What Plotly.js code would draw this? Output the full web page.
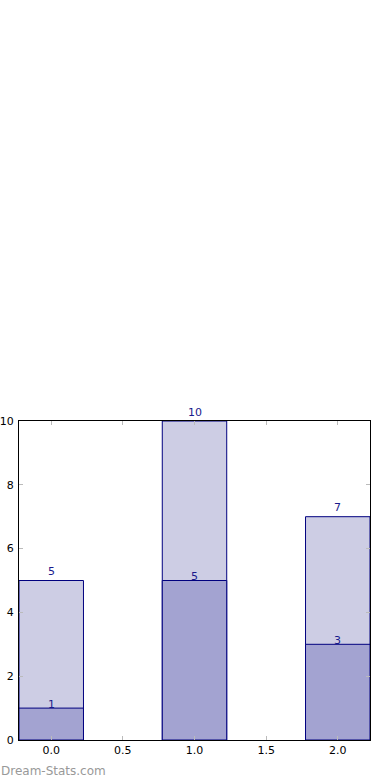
<!DOCTYPE html>
<html><head><meta charset="utf-8">
<script src="https://cdn.plot.ly/plotly-3.0.1.min.js"></script>
<style>body{margin:0;background:#fff}#c{width:390px;height:780px}</style>
</head><body><div id="c"></div>
<script>
const categories = [0, 1, 2];
const totalValues = [5, 10, 7];
const partValues = [1, 5, 3];
const xTicks = [0, 0.5, 1, 1.5, 2];
const xTickLabels = ['0.0', '0.5', '1.0', '1.5', '2.0'];
const yTicks = [0, 2, 4, 6, 8, 10];

const edge = '#00007f';
const labelColor = '#1a1a8c';
const traces = [
  {type: 'bar', x: categories, y: totalValues, width: 0.45,
   marker: {color: '#cdcde4', line: {color: edge, width: 1}}, hoverinfo: 'none'},
  {type: 'bar', x: categories, y: partValues, width: 0.45,
   marker: {color: '#a3a3d1', line: {color: edge, width: 1}}, hoverinfo: 'none'}
];
const annotations = [];
categories.forEach((c, i) => {
  annotations.push({x: c, y: totalValues[i], text: String(totalValues[i]), showarrow: false,
    yanchor: 'middle', yshift: 9, font: {family: 'DejaVu Sans', size: 11, color: labelColor}});
  annotations.push({x: c, y: partValues[i], text: String(partValues[i]), showarrow: false,
    yanchor: 'middle', yshift: 4, font: {family: 'DejaVu Sans', size: 11, color: labelColor}});
});
annotations.push({xref: 'paper', yref: 'paper', x: 0, y: 0, xanchor: 'left', yanchor: 'bottom',
  xshift: -20, yshift: -40, text: 'Dream-Stats.com', showarrow: false,
  font: {family: 'DejaVu Sans', size: 12, color: '#999999'}});

const layout = {
  width: 390, height: 780,
  margin: {l: 19, r: 20, t: 421, b: 40},
  paper_bgcolor: '#fff', plot_bgcolor: '#fff',
  barmode: 'overlay', showlegend: false,
  font: {family: 'DejaVu Sans', size: 11, color: '#000'},
  xaxis: {range: [-0.225, 2.225], tickvals: xTicks, ticktext: xTickLabels,
    ticks: 'inside', ticklen: 4, tickcolor: '#bbbbbb', showline: true, linecolor: '#000', linewidth: 1,
    mirror: 'ticks', showgrid: false, zeroline: false, fixedrange: true},
  yaxis: {range: [0, 10], tickvals: yTicks, ticks: 'inside', ticklen: 4, tickcolor: '#bbbbbb',
    showline: true, linecolor: '#000', linewidth: 1, mirror: 'ticks', showgrid: false, zeroline: false,
    fixedrange: true, ticklabelstandoff: 2},
  annotations: annotations
};
Plotly.newPlot('c', traces, layout, {displayModeBar: false, staticPlot: true});
</script></body></html>
